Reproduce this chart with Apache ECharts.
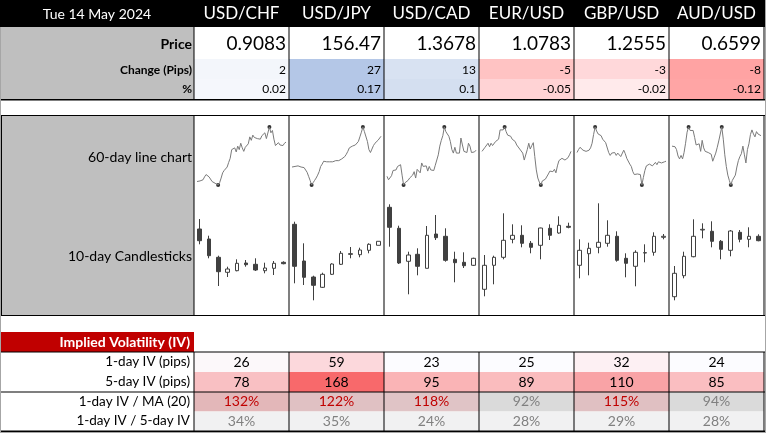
<!DOCTYPE html>
<html>
<head>
<meta charset="utf-8">
<title>FX dashboard - Tue 14 May 2024</title>
<script src="https://cdn.jsdelivr.net/npm/echarts@6/dist/echarts.min.js"></script>
<style>
  html, body { margin: 0; padding: 0; background: #fff; }
  #main { width: 766px; height: 433px; }
</style>
</head>
<body>
<div id="main"></div>
<script>
// ---- data ----
const reportDate = 'Tue 14 May 2024';
const pairs = ['USD/CHF', 'USD/JPY', 'USD/CAD', 'EUR/USD', 'GBP/USD', 'AUD/USD'];
const prices = [0.9083, 156.47, 1.3678, 1.0783, 1.2555, 0.6599];
const priceDecimals = [4, 2, 4, 4, 4, 4];
const changePips = [2, 27, 13, -5, -3, -8];
const changePct = [0.02, 0.17, 0.1, -0.05, -0.02, -0.12];

const ivRowLabels = ['1-day IV (pips)', '5-day IV (pips)', '1-day IV / MA (20)', '1-day IV / 5-day IV'];
const iv1Day = [26, 59, 23, 25, 32, 24];
const iv5Day = [78, 168, 95, 89, 110, 85];
const ivVsMA20 = [132, 122, 118, 92, 115, 94];
const iv1vs5 = [34, 35, 24, 28, 29, 28];

// 60-day closes, relative level (0 = low of the window, 100 = high)
const lineUSDCHF = [6,8,7,6,9,14,18,17,14,11,6,4,3,2,0,4,12,21,25,23,31,39,46,61,58,64,57,67,61,72,64,58,65,62,71,83,77,86,82,84,80,83,79,85,82,90,80,83,100,90,94,79,68,71,73,69,71,68,72,74];
const lineUSDJPY = [31,31,32,32,33,32,31,30,30,27,22,15,8,0,4,8,12,17,23,32,36,41,41,40,39,40,39,40,39,42,41,42,41,45,43,49,53,58,64,66,67,68,69,71,75,83,91,100,92,94,75,61,56,62,68,72,73,77,80,84];
const lineUSDCAD = [15,9,11,16,25,25,26,32,34,35,17,0,4,6,8,12,9,17,23,12,27,29,21,38,32,31,33,24,32,26,26,25,34,35,52,67,77,85,100,92,88,84,75,61,55,65,55,58,55,81,69,58,61,56,72,67,56,58,57,60];
const lineEURUSD = [58,61,65,67,72,66,72,68,68,75,74,79,95,97,95,100,92,86,88,84,79,79,75,69,68,62,63,55,43,40,61,72,62,68,73,49,26,12,5,0,7,5,10,13,19,24,25,23,27,21,33,42,39,46,44,43,41,47,52,58];
const lineGBPUSD = [56,61,65,63,60,60,58,56,60,64,72,87,100,93,88,86,85,79,77,73,73,56,51,55,53,56,51,55,57,49,51,60,54,46,45,36,32,23,18,20,19,19,18,0,13,25,33,31,36,36,33,36,39,35,40,37,38,39,40,41];
const lineAUDUSD = [67,68,66,61,50,45,51,45,56,72,91,100,94,94,94,82,69,69,71,58,77,64,58,60,56,56,53,41,48,55,65,76,79,100,79,52,32,17,8,0,8,10,17,31,42,49,54,67,52,38,61,71,87,95,88,83,92,88,87,85];

// 10-day candles [open, close, low, high], relative level
const candleUSDCHF = [[76.0,64.3,60.7,86.0],[66.0,49.3,46.7,69.3],[47.7,33.3,19.0,49.3],[32.7,36.0,28.0,38.3],[34.3,41.7,33.7,45.7],[42.0,40.3,38.3,45.0],[40.7,35.0,34.0,46.7],[34.3,37.0,31.7,42.3],[36.7,41.7,30.0,44.0],[42.7,41.3,40.7,43.7]];
const candleUSDJPY = [[80.7,38.7,21.7,83.3],[44.0,27.7,20.0,61.7],[28.0,19.7,4.7,29.3],[17.7,30.7,17.0,32.3],[30.7,41.0,30.0,41.7],[40.7,51.7,40.0,54.0],[51.3,50.7,46.7,58.0],[50.3,55.0,47.7,57.3],[54.7,60.7,51.7,61.7],[59.7,63.7,59.7,63.7]];
const candleUSDCAD = [[97.7,77.7,58.3,100.7],[76.7,42.0,41.0,79.3],[43.7,50.0,10.7,53.3],[50.7,38.7,29.7,56.7],[36.7,69.7,36.7,79.0],[71.0,67.3,65.0,90.0],[68.7,44.7,43.3,76.7],[45.7,42.3,22.7,53.3],[42.7,39.3,37.0,52.7],[39.7,46.7,39.0,47.3]];
const candleEURUSD = [[15.7,39.7,8.7,50.0],[39.7,47.7,20.7,49.3],[47.7,64.7,45.7,91.7],[65.7,69.7,61.7,80.7],[69.7,61.7,57.7,79.7],[61.7,57.7,51.7,64.0],[59.7,77.0,45.7,77.3],[76.7,69.7,65.0,80.7],[72.0,79.7,71.3,88.7],[78.7,77.7,76.7,82.3]];
const candleGBPUSD = [[39.7,54.7,26.7,65.7],[51.3,56.7,29.7,62.3],[57.7,62.7,51.7,101.7],[61.7,69.7,58.3,84.7],[68.7,44.7,43.3,73.7],[46.7,41.7,27.7,51.7],[38.7,52.7,18.7,54.7],[52.3,52.0,42.7,60.7],[52.7,68.7,49.3,72.7],[67.7,68.7,65.7,71.0]];
const candleAUDUSD = [[8.3,31.7,4.7,39.0],[29.3,48.7,26.7,53.3],[48.3,68.7,47.7,85.7],[75.0,75.7,66.7,81.7],[73.7,63.7,57.7,83.7],[63.7,55.7,45.7,65.0],[54.7,74.0,48.7,75.0],[72.7,65.7,62.7,75.0],[65.7,68.7,57.7,77.7],[68.7,64.3,63.7,70.7]];

const lines60 = [lineUSDCHF, lineUSDJPY, lineUSDCAD, lineEURUSD, lineGBPUSD, lineAUDUSD];
const candles10 = [candleUSDCHF, candleUSDJPY, candleUSDCAD, candleEURUSD, candleGBPUSD, candleAUDUSD];

// ---- cell fills (conditional formatting colours) ----
const pipsFill = ['#f3f6fb', '#b4c7e7', '#d8e2f2', '#ffc3c3', '#ffd8da', '#ffa3a3'];
const pctFill = ['#f5f7fc', '#b4c7e7', '#d4dff0', '#ffd3d5', '#ffeaeb', '#ffa5a5'];
const iv1Fill = ['#fcf8fa', '#fcd8dc', '#fcfcff', '#fcfcff', '#fdf0f3', '#fcfcff'];
const iv5Fill = ['#f9c0c3', '#f8696b', '#fab4b6', '#fabcbe', '#f9a3a6', '#fabec1'];
const maFill = ['#e3b7b9', '#e0c1c3', '#e0c4c6', '#dadada', '#e0c0c2', '#dadada'];

const FONT = 'Lato, "Open Sans", sans-serif';
const colX0 = 194, colW = 95;
const colX = i => colX0 + i * colW;

let chart = echarts.init(document.getElementById('main'));
let els = [];

function box(x, y, w, h, fill, z) {
    els.push({ type: 'rect', silent: true, z: z || 0, shape: { x: x, y: y, width: w, height: h }, style: { fill: fill } });
}
function txt(text, x, y, font, align, color) {
    els.push({
        type: 'text', silent: true, z: 30, x: x, y: y,
        style: { text: text, font: font, fill: color || '#000', textFill: color || '#000',
                 textAlign: align, align: align, textVerticalAlign: 'middle', verticalAlign: 'middle' }
    });
}

// top table
box(0, 0, 766, 27, '#000');
box(0, 27, 194, 72, '#bfbfbf');
txt(reportDate, 97, 14, '14px ' + FONT, 'center', '#fff');
txt('Price', 192, 44, 'bold 14px ' + FONT, 'right');
txt('Change (Pips)', 192, 70, 'bold 12px ' + FONT, 'right');
txt('%', 192, 89, 'bold 12px ' + FONT, 'right');
pairs.forEach((p, i) => {
    let x = colX(i);
    txt(p, x + colW / 2, 14, '17px ' + FONT, 'center', '#fff');
    box(x, 59, colW, 20, pipsFill[i]);
    box(x, 79, colW, 20, pctFill[i]);
    txt(prices[i].toFixed(priceDecimals[i]), x + 92, 44, '19px ' + FONT, 'right');
    txt(String(changePips[i]), x + 92, 70, '12px ' + FONT, 'right');
    txt(String(changePct[i]), x + 92, 89, '12px ' + FONT, 'right');
});
for (let i = 0; i <= 6; i++) box(colX(i) - 0.5, 27, 1, 73, '#000', 10);
box(0, 99, 765, 1.5, '#000', 10);

// chart block
box(1, 115, 193, 200, '#bfbfbf');
txt('60-day line chart', 192, 157, '14px ' + FONT, 'right');
txt('10-day Candlesticks', 192, 256, '14px ' + FONT, 'right');
box(1, 115, 764, 1, '#000', 10);
box(1, 315, 764, 1, '#000', 10);
box(1, 115, 1, 201, '#000', 10);
for (let i = 0; i <= 6; i++) box(colX(i) - 0.5, 115, 1, 201, '#000', 10);

// implied volatility block
box(0, 332, 194, 20, '#c00000');
txt('Implied Volatility (IV)', 190, 342, 'bold 14px ' + FONT, 'right', '#fff');
ivRowLabels.forEach((l, r) => txt(l, 190, 362 + r * 19.7, '13.5px ' + FONT, 'right'));
pairs.forEach((p, i) => {
    let x = colX(i), cx = x + colW / 2;
    box(x, 352, colW, 20, iv1Fill[i]);
    box(x, 372, colW, 20, iv5Fill[i]);
    box(x, 392, colW, 19.5, maFill[i]);
    box(x, 411.5, colW, 19.5, '#f1f1f2');
    txt(String(iv1Day[i]), cx, 362, '14px ' + FONT, 'center');
    txt(String(iv5Day[i]), cx, 382, '14px ' + FONT, 'center');
    txt(ivVsMA20[i] + '%', cx, 401.5, '14px ' + FONT, 'center', ivVsMA20[i] > 100 ? '#c00000' : '#808080');
    txt(iv1vs5[i] + '%', cx, 421, '14px ' + FONT, 'center', '#808080');
});
box(0, 351.5, 765, 1, '#000', 10);
box(0, 391.5, 765, 1, '#000', 10);
box(0, 430.5, 765, 1.5, '#000', 10);
for (let i = 0; i <= 6; i++) box(colX(i) - 0.5, 352, 1, 79, '#000', 10);

// window frame
box(0, 27, 1, 406, '#a6a6a6', 12);
box(765, 0, 1, 433, '#a6a6a6', 12);
box(0, 432, 766, 1, '#a6a6a6', 12);

// mini charts
let grids = [], xAxes = [], yAxes = [], series = [];
pairs.forEach((p, i) => {
    let d = lines60[i];
    let lo = Math.min(...d), hi = Math.max(...d);
    grids.push({ left: colX(i) + 3, top: 127, width: 89, height: 58 });
    xAxes.push({ type: 'category', gridIndex: i, show: false, boundaryGap: false, data: d.map((v, k) => k) });
    yAxes.push({ type: 'value', gridIndex: i, show: false, scale: true, min: lo, max: hi });
    series.push({
        type: 'line', xAxisIndex: i, yAxisIndex: i, data: d, showSymbol: false, silent: true,
        lineStyle: { color: '#7a7a7a', width: 1 }
    });
    // dots on the high and low of the window
    series.push({
        type: 'scatter', xAxisIndex: i, yAxisIndex: i, silent: true, symbolSize: 4,
        itemStyle: { color: '#000' },
        data: d.map((v, k) => (v === lo || v === hi) ? [k, v] : null).filter(Boolean)
    });
});
pairs.forEach((p, i) => {
    let g = 6 + i;
    grids.push({ left: colX(i) + 1, top: 195, width: 93, height: 110 });
    xAxes.push({ type: 'category', gridIndex: g, show: false, boundaryGap: true, data: candles10[i].map((v, k) => k) });
    yAxes.push({ type: 'value', gridIndex: g, show: false, min: 0, max: 110 });
    series.push({
        type: 'candlestick', xAxisIndex: g, yAxisIndex: g, data: candles10[i], barWidth: 4, silent: true,
        itemStyle: { color: '#fff', color0: '#404040', borderColor: '#404040', borderColor0: '#404040', borderColorDoji: '#404040', borderWidth: 1 }
    });
});

chart.setOption({
    animation: false,
    grid: grids,
    xAxis: xAxes,
    yAxis: yAxes,
    tooltip: { show: false },
    graphic: { elements: els },
    series: series
});
</script>
</body>
</html>
